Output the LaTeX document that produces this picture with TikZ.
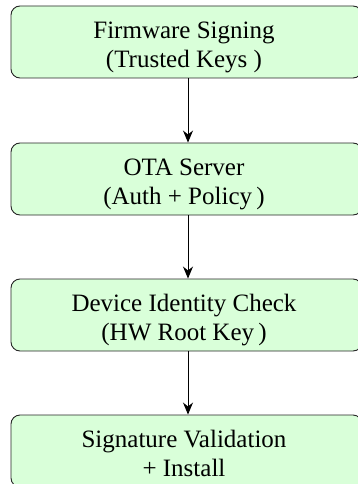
\documentclass[tikz,border=0pt]{standalone}
\usepackage{fontspec}
\setmainfont{Liberation Serif}
\usetikzlibrary{arrows.meta}
\begin{document}
\begin{tikzpicture}[x=1pt,y=-1pt,
  stagebox/.style={draw=black!85, line width=0.9pt, fill=green!15, rounded corners=9pt,
    minimum width=351pt, minimum height=72pt, inner sep=0pt},
  stagetext/.style={font=\fontsize{25}{29}\selectfont, align=center, inner sep=0pt},
  flow/.style={draw=black, line width=0.9pt, -{Stealth[length=12pt,width=10pt]}}]
\useasboundingbox (0,0) rectangle (358,484);
\node[stagebox] (b1) at (186.5,42) {};
\node[stagebox] (b2) at (186.5,179) {};
\node[stagebox] (b3) at (186.5,315) {};
\node[stagebox] (b4) at (186.5,451) {};
\node[stagetext, anchor=base] (t1) at (184,68) {Firmware Signing\\(Trusted Keys )};
\node[stagetext, anchor=base] (t2) at (184,204) {OTA Server\\(Auth + Policy\,)};
\node[stagetext, anchor=base] (t3) at (184,340) {Device Identity Check\\(HW Root Key\,)};
\node[stagetext, anchor=base] (t4) at (184,476) {Signature Validation\\+ Install};
\draw[flow] ([xshift=1.5pt]b1.south) -- ([xshift=1.5pt]b2.north);
\draw[flow] ([xshift=1.5pt]b2.south) -- ([xshift=1.5pt]b3.north);
\draw[flow] ([xshift=1.5pt]b3.south) -- ([xshift=1.5pt]b4.north);
\end{tikzpicture}
\end{document}
